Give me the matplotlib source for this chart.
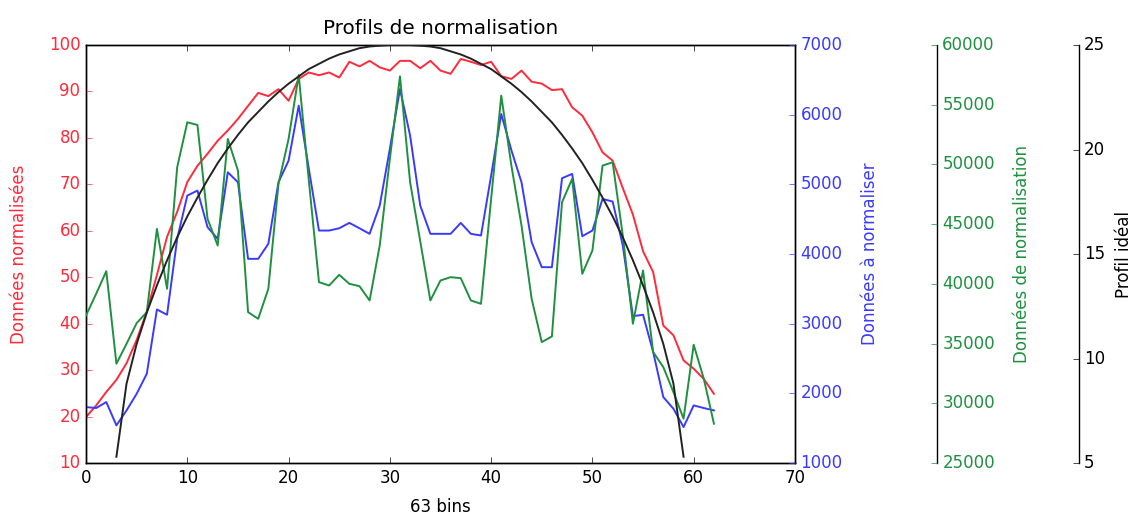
import numpy as np
import matplotlib
matplotlib.use('Agg')
import matplotlib.pyplot as plt

plt.style.use('classic')

# données
bins = list(range(63))

donnees_normalisees = [
    19.9, 22.4, 25.3, 27.9, 31.5, 36.5, 42.6, 50.5, 58.7, 64.1,
    70.5, 74.0, 76.6, 79.4, 81.6, 84.1, 86.9, 89.7, 89.0, 90.5,
    88.0, 92.7, 94.1, 93.5, 94.1, 93.0, 96.4, 95.4, 96.6, 95.2,
    94.5, 96.6, 96.6, 95.0, 96.6, 94.5, 93.8, 97.0, 96.4, 95.7,
    96.4, 93.3, 92.7, 94.5, 92.1, 91.7, 90.3, 90.5, 86.6, 84.8,
    81.2, 76.9, 75.1, 69.2, 63.5, 55.6, 51.1, 39.6, 37.5, 32.1,
    30.3, 28.1, 24.9]

donnees_a_normaliser = [
    1803, 1789, 1875, 1540, 1755, 1994, 2281, 3204, 3128, 4218,
    4839, 4911, 4385, 4218, 5174, 5030, 3931, 3931, 4146, 5030,
    5341, 6130, 5222, 4337, 4337, 4370, 4447, 4370, 4290, 4696,
    5509, 6369, 5700, 4696, 4290, 4290, 4290, 4447, 4290, 4266,
    5126, 6010, 5490, 5030, 4170, 3811, 3811, 5088, 5150, 4256,
    4337, 4791, 4753, 4122, 3108, 3128, 2592, 1947, 1779, 1516,
    1827, 1789, 1755]

donnees_normalisation = [
    37355, 39168, 41065, 33311, 34985, 36714, 37634, 44607, 39586, 49766,
    53531, 53308, 45443, 43212, 52137, 49487, 37634, 37076, 39586, 48372,
    52137, 57492, 48650, 40144, 39865, 40758, 40005, 39810, 38610, 43212,
    50463, 57380, 48511, 43570, 38610, 40284, 40563, 40479, 38610, 38331,
    47116, 55763, 49906, 44886, 38750, 35124, 35598, 46838, 48790, 40842,
    42794, 49906, 50185, 44049, 36658, 41121, 34288, 33032, 30941, 28710,
    34901, 32056, 28291]

x_ideal = list(range(3, 60))
profil_ideal = [
    5.3, 8.8, 10.7, 12.2, 13.5, 14.7, 15.8, 16.8, 17.7, 18.55,
    19.35, 20.05, 20.7, 21.3, 21.8, 22.3, 22.75, 23.15, 23.5, 23.85,
    24.1, 24.35, 24.55, 24.7, 24.85, 24.93, 24.97, 25.0, 25.0, 25.0,
    24.97, 24.93, 24.85, 24.7, 24.55, 24.35, 24.1, 23.85, 23.5, 23.15,
    22.75, 22.3, 21.8, 21.3, 20.7, 20.05, 19.35, 18.55, 17.7, 16.8,
    15.8, 14.7, 13.5, 12.2, 10.7, 8.8, 5.3]

rouge = '#ff2a3a'
bleu = '#3a3aff'
vert = '#1f9040'

fig = plt.figure(figsize=(11.35, 5.16), dpi=100, facecolor='white')
ax = fig.add_axes([0.0758, 0.1027, 0.6246, 0.81])
ax.set_facecolor('white')

par1 = ax.twinx()
par2 = ax.twinx()
par3 = ax.twinx()

for par, pos in ((par2, 1.2), (par3, 1.4)):
    par.spines['right'].set_position(('axes', pos))
    par.set_frame_on(True)
    par.patch.set_visible(False)
    for s in ('left', 'top', 'bottom'):
        par.spines[s].set_visible(False)

lw = 1.4
ax.plot(bins, donnees_normalisees, '-', color=rouge, lw=lw)
par1.plot(bins, donnees_a_normaliser, '-', color=bleu, lw=lw)
par2.plot(bins, donnees_normalisation, '-', color=vert, lw=lw)
par3.plot(x_ideal, profil_ideal, '-', color='#222222', lw=lw)

ax.set_xlim(0, 70)
ax.set_ylim(10, 100)
par1.set_ylim(1000, 7000)
par2.set_ylim(25000, 60000)
par3.set_ylim(5, 25)

ax.set_xlabel('63 bins', labelpad=8)
ax.set_ylabel('Données normalisées', color=rouge, labelpad=15)
par1.set_ylabel('Données à normaliser', color=bleu, labelpad=13)
par2.set_ylabel('Données de normalisation', color=vert, labelpad=13)
par3.set_ylabel('Profil idéal', color='k', labelpad=7)

ax.tick_params(axis='y', colors=rouge)
par1.tick_params(axis='y', colors=bleu)
par2.tick_params(axis='y', colors=vert)
par3.tick_params(axis='y', colors='k')

ax.set_title('Profils de normalisation', y=1.01)

fig.savefig('out.png', dpi=100, facecolor='white')
